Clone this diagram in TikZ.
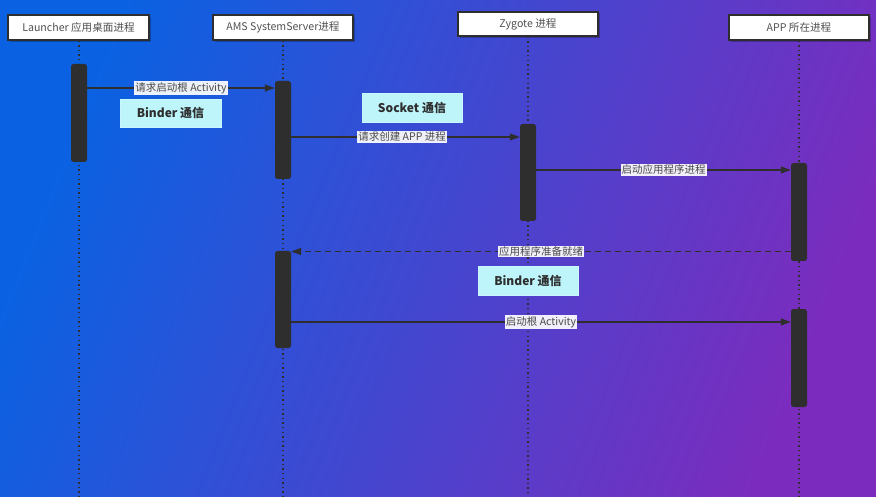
\documentclass[tikz,border=0pt]{standalone}
\usepackage{fontspec}
\setmainfont{Noto Sans CJK SC}
\usetikzlibrary{arrows.meta,calc}

\definecolor{bgA}{HTML}{0A62E2}
\definecolor{bgB}{HTML}{7B2CBE}
\definecolor{ink}{HTML}{2E2E2E}
\definecolor{headtext}{HTML}{505050}
\definecolor{labeltext}{HTML}{4A4A4A}
\definecolor{commfill}{HTML}{BDF5FA}

\tikzset{
  headbox/.style={draw=ink, line width=1.3pt, fill=white, minimum width=140pt,
    minimum height=25pt, inner sep=0pt, text=headtext, font=\fontsize{10.6}{12}\selectfont},
  lifeline/.style={draw=ink, line width=1.2pt, dash pattern=on 1.4pt off 3.2pt},
  actbar/.style={draw=none, fill=ink, rounded corners=2.5pt, minimum width=16pt, inner sep=0pt},
  msg/.style={draw=ink, line width=1.3pt, -{Triangle[length=10pt,width=7pt]}},
  reply/.style={msg, dash pattern=on 6pt off 4pt},
  msglabel/.style={fill=white, fill opacity=0.92, text opacity=1, text=labeltext,
    inner xsep=1pt, inner ysep=1pt, font=\fontsize{10.5}{12}\selectfont},
  commbox/.style={fill=commfill, draw=commfill!80!white, minimum width=100pt,
    minimum height=28pt, inner sep=0pt, text=ink, font=\fontsize{12}{14}\selectfont\bfseries},
}

\begin{document}
\begin{tikzpicture}[x=1pt, y=-1pt]
  % canvas and gradient background
  \useasboundingbox (0,0) rectangle (876,497);
  \shade[top color=bgA, bottom color=bgB, shading angle=68] (0,0) rectangle (876,497);
  \coordinate (floor) at (0,497);

  % participant heads (with a faint shadow)
  \foreach \x/\y/\w in {78.5/27.5/141, 283/27.5/140, 528/24/140, 799/27.5/140}
    \fill[black, opacity=0.25] (\x-\w/2+2, \y-12.5+2) rectangle (\x+\w/2+2, \y+12.5+2);
  \node[headbox, minimum width=141pt] (launcher) at (78.5,27.5) {Launcher 应用桌面进程};
  \node[headbox] (ams) at (283,27.5) {AMS SystemServer进程};
  \node[headbox, minimum height=24pt] (zygote) at (528,24) {Zygote 进程};
  \node[headbox] (app) at (799,27.5) {APP 所在进程};

  % lifelines
  \draw[lifeline] (launcher.south -| 79,0) -- (floor -| 79,0);
  \draw[lifeline] (ams.south) -- (ams.south |- floor);
  \draw[lifeline] (zygote.south) -- (zygote.south |- floor);
  \draw[lifeline] (app.south) -- (app.south |- floor);

  % activation bars
  \node[actbar, minimum height=98pt] (l1) at (79,113) {};
  \node[actbar, minimum height=98pt] (a1) at (283,130) {};
  \node[actbar, minimum height=97pt] (z1) at (528,172.5) {};
  \node[actbar, minimum height=98pt] (p1) at (799,212) {};
  \node[actbar, minimum height=97pt] (a2) at (283,299.5) {};
  \node[actbar, minimum height=98pt] (p2) at (799,358) {};

  % message rows
  \coordinate (m1) at (0,88);
  \coordinate (m2) at (0,137);
  \coordinate (m3) at (0,170);
  \coordinate (m4) at (0,251.5);
  \coordinate (m5) at (0,322);

  % communication channel notes
  \node[commbox, minimum width=101pt] (binderA) at (170.5,113) {Binder 通信};
  \node[commbox, minimum height=29pt] (socket) at (412,107.5) {Socket 通信};
  \node[commbox, minimum height=29pt] (binderB) at (528,280.5) {Binder 通信};

  % messages
  \draw[msg] (l1.east |- m1) -- node[msglabel] {请求启动根 Activity} (a1.west |- m1);
  \draw[msg] (a1.east |- m2) -- node[msglabel, pos=0.485] {请求创建 APP 进程} (z1.west |- m2);
  \draw[msg] (z1.east |- m3) -- node[msglabel] {启动应用程序进程} (p1.west |- m3);
  \draw[reply] (p1.west |- m4) -- node[msglabel] {应用程序准备就绪} (a2.east |- m4);
  \draw[msg] (a2.east |- m5) -- node[msglabel] {启动根 Activity} (p2.west |- m5);
\end{tikzpicture}
\end{document}
